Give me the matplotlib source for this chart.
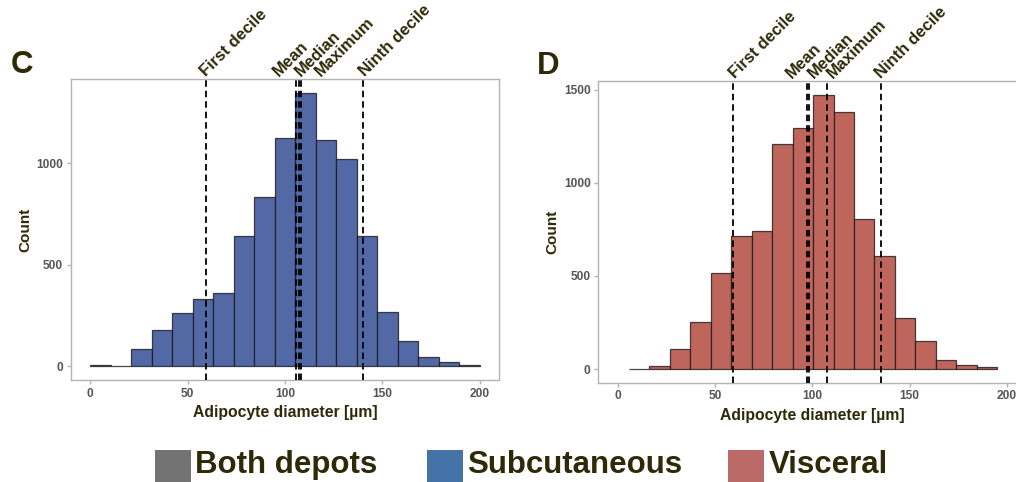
import numpy as np
import matplotlib
matplotlib.use("Agg")
import matplotlib.pyplot as plt
import matplotlib.transforms as mtransforms
from matplotlib.patches import Rectangle

plt.rcParams['font.family'] = ['Liberation Sans', 'DejaVu Sans']

# ---------------- data ----------------
# Panel C: subcutaneous
c_edges = np.linspace(0, 200, 20)
c_counts = [7, 2, 87, 180, 262, 334, 363, 640, 836, 1126, 1347, 1116, 1021, 640, 270, 123, 46, 20, 7]
c_stats = {"First decile": 59.4, "Mean": 105.5, "Median": 107.3, "Maximum": 108.2, "Ninth decile": 140.2}
c_label_x = {"First decile": 59.3, "Mean": 97.1, "Median": 108.2, "Maximum": 118.4, "Ninth decile": 141.0}

# Panel D: visceral
d_edges = np.linspace(5.6, 195.2, 19)
d_counts = [2, 16, 109, 251, 515, 716, 739, 1206, 1296, 1471, 1380, 804, 607, 274, 150, 50, 20, 11]
d_stats = {"First decile": 59.5, "Mean": 97.3, "Median": 98.5, "Maximum": 107.4, "Ninth decile": 135.2}
d_label_x = {"First decile": 60.4, "Mean": 89.7, "Median": 101.0, "Maximum": 110.4, "Ninth decile": 135.6}

x_ticks = [0, 50, 100, 150, 200]
c_yticks = [0, 500, 1000]
d_yticks = [0, 500, 1000, 1500]

legend_labels = ["Both depots", "Subcutaneous", "Visceral"]
legend_colors = ["#737373", "#4572A7", "#BC6A67"]

TEXT = "#2E2A08"
TICK = "#555555"
SPINE = "#B3B3B3"

W, H = 1016, 482
fig = plt.figure(figsize=(W / 100, H / 100), dpi=100)


def px_axes(l, t, r, b):
    return fig.add_axes([l / W, 1 - b / H, (r - l) / W, (b - t) / H])


def panel(ax, edges, counts, stats, label_x, yticks, fill, letter, letter_xy):
    edges = np.asarray(edges)
    ax.bar(edges[:-1], counts, width=np.diff(edges), align='edge',
           color=fill, edgecolor=(0.1, 0.1, 0.1, 0.8), linewidth=0.9, zorder=2)
    for name, xv in stats.items():
        ax.axvline(xv, color='black', linewidth=1.3, dashes=(3.6, 2.2), zorder=3)
    ymax = max(counts)
    ax.set_xlim(-10, 210)
    ax.set_ylim(-0.05 * ymax, 1.05 * ymax)
    ax.set_xticks(x_ticks)
    ax.set_yticks(yticks)
    ax.tick_params(axis='both', colors=SPINE, length=3, width=1.0, labelsize=8.6,
                   labelcolor=TICK, pad=2.5)
    for lab in ax.get_xticklabels() + ax.get_yticklabels():
        lab.set_fontweight('bold')
    for sp in ax.spines.values():
        sp.set_color(SPINE)
        sp.set_linewidth(1.0)
    ax.set_xlabel("Adipocyte diameter [µm]", fontsize=11.3, fontweight='bold', color=TEXT, labelpad=4)
    ax.set_ylabel("Count", fontsize=11, fontweight='bold', color=TEXT, labelpad=3)
    trans = mtransforms.blended_transform_factory(ax.transData, ax.transAxes)
    for name, lx in label_x.items():
        ax.text(lx, 1.008, name, transform=trans, rotation=45, rotation_mode='anchor',
                ha='left', va='baseline', fontsize=12, fontweight='bold', color=TEXT,
                clip_on=False)
    fig.text(letter_xy[0] / W, 1 - letter_xy[1] / H, letter, fontsize=22.5,
             fontweight='bold', color=TEXT, ha='left', va='baseline')


axC = px_axes(70.7, 79.3, 499, 380)
panel(axC, c_edges, c_counts, c_stats, c_label_x, c_yticks, "#5269A6", "C", (10.5, 73.3))

axD = px_axes(598.3, 81.3, 1026.2, 382.7)
panel(axD, d_edges, d_counts, d_stats, d_label_x, d_yticks, "#BE655C", "D", (536.5, 74))

# legend at bottom
sq_x = [155, 427.3, 728.3]
for x0, lab, col in zip(sq_x, legend_labels, legend_colors):
    fig.patches.append(Rectangle((x0 / W, 0), 35.5 / W, 32 / H, transform=fig.transFigure,
                                 facecolor=col, edgecolor='none'))
    fig.text((x0 + 40) / W, 1 - 472.7 / H, lab, fontsize=22.5, fontweight='bold',
             color=TEXT, ha='left', va='baseline')

fig.savefig("out.png", dpi=100, facecolor='white')
